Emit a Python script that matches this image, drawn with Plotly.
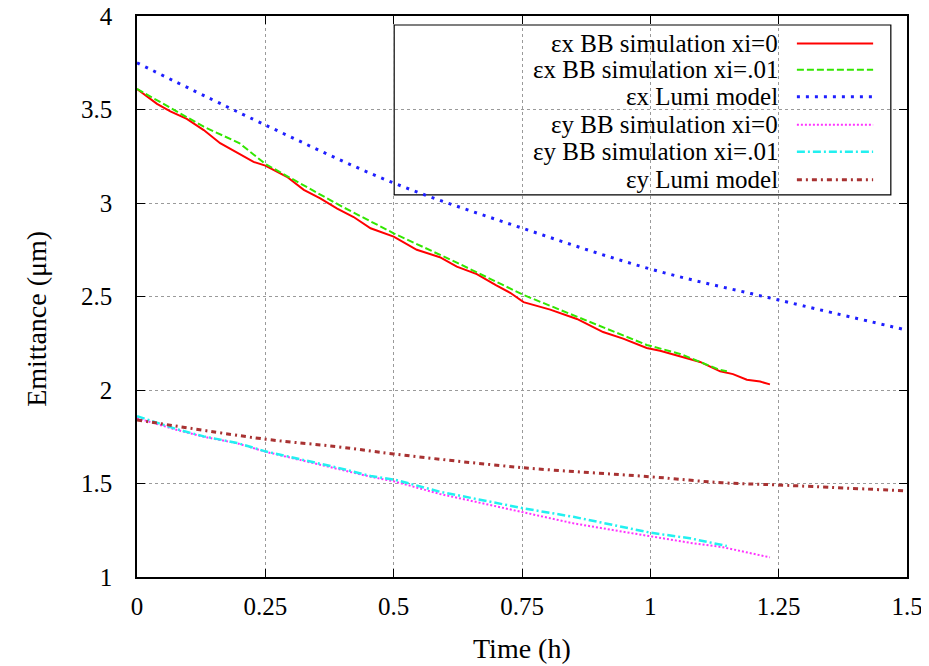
import plotly.graph_objects as go

# values
t_ex_bb0 = [0, 0.039, 0.065, 0.097, 0.13, 0.162, 0.195, 0.227, 0.25, 0.292, 0.325, 0.357,
            0.39, 0.422, 0.455, 0.5, 0.545, 0.59, 0.623, 0.662, 0.70, 0.727, 0.753, 0.805,
            0.857, 0.908, 0.947, 0.993, 1.019, 1.058, 1.097, 1.136, 1.161, 1.188, 1.214, 1.233]
ex_bb0 = [3.61, 3.53, 3.49, 3.45, 3.39, 3.32, 3.27, 3.22, 3.20, 3.14, 3.07, 3.025,
          2.97, 2.925, 2.865, 2.82, 2.75, 2.71, 2.66, 2.62, 2.56, 2.52, 2.47, 2.43,
          2.38, 2.31, 2.275, 2.225, 2.21, 2.18, 2.15, 2.10, 2.085, 2.055, 2.045, 2.03]

t_ex_bb01 = [0, 0.13, 0.2, 0.227, 0.25, 0.3, 0.4, 0.5, 0.623, 0.753, 0.88, 0.993, 1.058, 1.136, 1.149]
ex_bb01 = [3.61, 3.408, 3.319, 3.257, 3.209, 3.132, 2.98, 2.838, 2.681, 2.508, 2.365, 2.241, 2.193, 2.107, 2.10]

t_ex_lumi = [0, 0.25, 0.5, 0.75, 1.0, 1.25, 1.5]
ex_lumi = [3.75, 3.417, 3.107, 2.866, 2.647, 2.481, 2.32]

t_ey_bb0 = [0, 0.078, 0.13, 0.195, 0.25, 0.325, 0.39, 0.455, 0.503, 0.59, 0.688, 0.753,
            0.85, 0.947, 1.0, 1.077, 1.142, 1.18, 1.233]
ey_bb0 = [1.85, 1.786, 1.75, 1.715, 1.67, 1.622, 1.581, 1.536, 1.51, 1.444, 1.385, 1.344,
          1.287, 1.242, 1.219, 1.183, 1.159, 1.135, 1.105]

t_ey_bb01 = [0, 0.078, 0.13, 0.195, 0.25, 0.325, 0.39, 0.455, 0.503, 0.59, 0.688, 0.753,
             0.85, 0.947, 1.0, 1.077, 1.149]
ey_bb01 = [1.86, 1.79, 1.752, 1.717, 1.672, 1.625, 1.585, 1.54, 1.52, 1.456, 1.403, 1.367,
           1.322, 1.269, 1.237, 1.207, 1.166]

t_ey_lumi = [0, 0.25, 0.39, 0.5, 0.75, 1.0, 1.14, 1.25, 1.5]
ey_lumi = [1.84, 1.737, 1.697, 1.658, 1.585, 1.536, 1.504, 1.492, 1.46]

names = ['εx BB simulation xi=0', 'εx BB simulation xi=.01', 'εx Lumi model',
         'εy BB simulation xi=0', 'εy BB simulation xi=.01', 'εy Lumi model']
xs = [t_ex_bb0, t_ex_bb01, t_ex_lumi, t_ey_bb0, t_ey_bb01, t_ey_lumi]
ys = [ex_bb0, ex_bb01, ex_lumi, ey_bb0, ey_bb01, ey_lumi]
colors = ['#ff0000', '#33e600', '#1f1fff', '#ff33ff', '#22f0f0', '#a83232']
dashes = ['solid', '7px,3px', '3px,6px', '2px,2px', '8px,3px,2px,3px', '5px,4px,2px,4px']
widths = [2, 2, 3, 2, 2.5, 3]
shapes_ = ['linear', 'linear', 'spline', 'linear', 'linear', 'spline']

FONT = 'Liberation Serif, DejaVu Serif, serif'

fig = go.Figure()
for x, y, n, c, d, w, s in zip(xs, ys, names, colors, dashes, widths, shapes_):
    fig.add_trace(go.Scatter(x=x, y=y, mode='lines', name=n,
                             line=dict(color=c, dash=d, width=w, shape=s)))

# gnuplot style key: text right aligned, sample line on the right
shapes = [dict(type='rect', xref='paper', yref='paper', x0=0.334, x1=0.979, y0=0.681, y1=0.984,
               line=dict(color='black', width=1.2), fillcolor='white', layer='between')]
annotations = []
row_y = [0.951, 0.904, 0.856, 0.806, 0.758, 0.708]
for ry, n, c, d, w in zip(row_y, names, colors, dashes, widths):
    annotations.append(dict(x=0.835, y=ry, xref='paper', yref='paper', text=n,
                            showarrow=False, xanchor='right', yanchor='middle',
                            font=dict(family=FONT, size=25, color='black')))
    shapes.append(dict(type='line', xref='paper', yref='paper', x0=0.857, x1=0.956, y0=ry, y1=ry,
                       line=dict(color=c, dash=d, width=w)))

annotations.append(dict(x=0.5, y=-0.127, xref='paper', yref='paper', text='Time (h)',
                        showarrow=False, xanchor='center', yanchor='middle',
                        font=dict(family=FONT, size=28, color='black')))
annotations.append(dict(x=-0.13, y=0.46, xref='paper', yref='paper', text='Emittance (μm)',
                        showarrow=False, xanchor='center', yanchor='middle', textangle=-90,
                        font=dict(family=FONT, size=28, color='black')))

axis_style = dict(showline=True, linecolor='black', linewidth=1.5, mirror='ticks',
                  ticks='inside', ticklen=8, tickcolor='black', tickwidth=1,
                  showgrid=True, gridcolor='#9a9a9a', griddash='dot', gridwidth=1,
                  zeroline=False, automargin=False, ticklabeloverflow='allow',
                  tickfont=dict(family=FONT, size=25, color='black'))

# the page body adds an 8px offset, so margins are shifted by that much
fig.update_layout(
    width=929, height=666,
    margin=dict(l=129, r=30, t=8, b=97),
    paper_bgcolor='white', plot_bgcolor='white',
    showlegend=False,
    shapes=shapes, annotations=annotations,
    xaxis=dict(range=[0, 1.5], dtick=0.25, tick0=0, ticklabelstandoff=6, **axis_style),
    yaxis=dict(range=[1, 4], dtick=0.5, tick0=1, ticklabelstandoff=18, **axis_style),
)

fig.write_html("out.html")
